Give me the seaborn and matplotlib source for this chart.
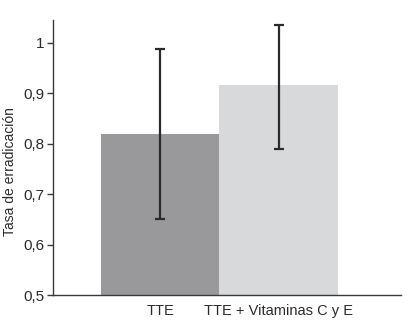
import matplotlib
matplotlib.use('Agg')
import matplotlib.pyplot as plt
import matplotlib.ticker as mtick
import numpy as np
import pandas as pd
import seaborn as sns

# Data
groups = ['TTE', 'TTE + Vitaminas C y E']
rates = [0.820, 0.916]
ci_low = [0.651, 0.790]
ci_high = [0.988, 1.035]
bar_colors = ['#99999b', '#d8d9db']

df = pd.DataFrame({'grupo': groups, 'tasa': rates})

sns.set_style('white')
plt.rcParams['font.family'] = ['Liberation Sans', 'DejaVu Sans']

fig = plt.figure(figsize=(4.07, 3.25), dpi=100)
ax = fig.add_axes([0.130, 0.0923, 0.855, 0.8462])

sns.barplot(data=df, x='grupo', y='tasa', hue='grupo', palette=bar_colors,
            width=1.0, errorbar=None, legend=False, ax=ax,
            linewidth=0, saturation=1)

x = np.arange(len(groups))
yerr = np.array([np.array(rates) - np.array(ci_low),
                 np.array(ci_high) - np.array(rates)])
ax.errorbar(x, rates, yerr=yerr, fmt='none', ecolor='#2b2b2b',
            elinewidth=1.6, capsize=3.5, capthick=1.6)

ax.set_xlim(-0.902, 2.028)
ax.set_ylim(0.5, 1.0456)
ax.set_yticks([0.5, 0.6, 0.7, 0.8, 0.9, 1.0])
ax.yaxis.set_major_formatter(mtick.FuncFormatter(
    lambda v, _: f'{v:g}'.replace('.', ',')))

for s in ['top', 'right']:
    ax.spines[s].set_visible(False)
for s in ['left', 'bottom']:
    ax.spines[s].set_color('#3a3a3a')
    ax.spines[s].set_linewidth(1.0)

ax.tick_params(axis='y', left=True, length=4, width=1, color='#3a3a3a',
               labelsize=11, labelcolor='#2b2b2b', pad=2)
ax.tick_params(axis='x', bottom=False, labelsize=10.5, labelcolor='#2b2b2b', pad=3)
ax.set_xlabel('')
ax.set_ylabel('Tasa de erradicación', fontsize=10, color='#2b2b2b')
ax.yaxis.set_label_coords(-0.103, 0.45)

fig.savefig('out.png', dpi=100)
